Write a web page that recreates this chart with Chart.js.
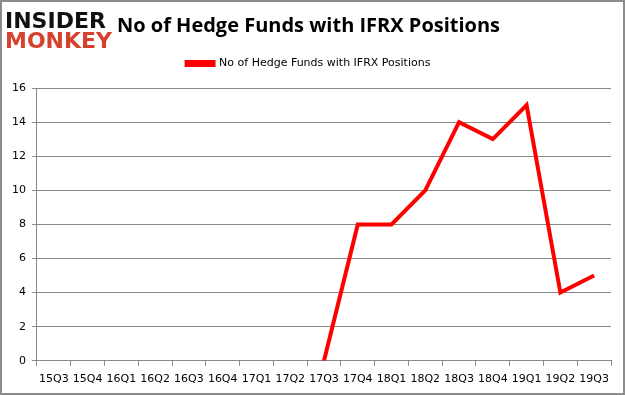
<!DOCTYPE html>
<html>
<head>
<meta charset="utf-8">
<script src="https://cdn.jsdelivr.net/npm/chart.js@4.4.0/dist/chart.umd.min.js"></script>
<style>
  html, body { margin: 0; padding: 0; background: #fff; }
  #wrap { width: 625px; height: 395px; }
</style>
</head>
<body>
<div id="wrap"><canvas id="myChart" width="625" height="395"></canvas></div>
<script>
var quarters = ["15Q3","15Q4","16Q1","16Q2","16Q3","16Q4","17Q1","17Q2","17Q3","17Q4","18Q1","18Q2","18Q3","18Q4","19Q1","19Q2","19Q3"];
var hedgeFunds = [null,null,null,null,null,null,null,null,0,8,8,10,14,13,15,4,5];
var yTicks = [0,2,4,6,8,10,12,14,16];

// frame + logo drawn on top of canvas
var decor = {
    id: "decor",
    afterDraw: function(chart){
        var c = chart.ctx;
        c.save();
        c.strokeStyle = "#8c8c8c";
        c.lineWidth = 2;
        c.strokeRect(1, 1, chart.width - 2, chart.height - 2);
        c.textBaseline = "alphabetic";
        c.font = "900 22px 'DejaVu Sans'";
        c.fillStyle = "#111";
        c.fillText("INSIDER", 5, 28);
        c.fillStyle = "#d5412c";
        c.fillText("MONKEY", 5, 48);
        c.restore();
    }
};

// extra room under the legend
var legendGap = {
    id: "legendGap",
    beforeInit: function(chart){
        var fit = chart.legend.fit;
        chart.legend.fit = function(){
            fit.bind(chart.legend)();
            this.height += 9;
        };
    }
};

var ctx = document.getElementById("myChart").getContext("2d");
var myChart = new Chart(ctx, {
    type: "line",
    data: {
        labels: quarters,
        datasets: [{
            label: "No of Hedge Funds with IFRX Positions",
            data: hedgeFunds,
            borderColor: "#ff0000",
            backgroundColor: "#ff0000",
            borderWidth: 4,
            pointRadius: 0,
            tension: 0,
            spanGaps: false
        }]
    },
    options: {
        responsive: false,
        animation: false,
        layout: { padding: { left: 6, right: 14, top: 4, bottom: 2 } },
        plugins: {
            title: {
                display: true,
                text: "No of Hedge Funds with IFRX Positions",
                color: "#000",
                font: { family: "'Open Sans'", size: 20, weight: "bold" },
                padding: { top: 10, bottom: 12 }
            },
            legend: {
                display: true,
                labels: {
                    boxWidth: 27,
                    boxHeight: 3,
                    color: "#000",
                    font: { family: "'DejaVu Sans'", size: 11 },
                    padding: 8
                }
            },
            tooltip: { enabled: false }
        },
        scales: {
            x: {
                offset: true,
                grid: {
                    display: true,
                    drawOnChartArea: false,
                    drawTicks: true,
                    tickLength: 5,
                    color: "#888",
                    offset: true
                },
                border: { display: true, color: "#888" },
                ticks: {
                    color: "#000",
                    font: { family: "'DejaVu Sans'", size: 11 },
                    maxRotation: 0,
                    autoSkip: false,
                    padding: 7
                }
            },
            y: {
                min: 0,
                max: 16,
                afterBuildTicks: function(axis){
                    axis.ticks = yTicks.map(function(v){ return { value: v }; });
                },
                grid: {
                    color: "#888",
                    drawTicks: true,
                    tickLength: 5
                },
                border: { display: true, color: "#888" },
                ticks: {
                    color: "#000",
                    font: { family: "'DejaVu Sans'", size: 11 },
                    padding: 6
                }
            }
        }
    },
    plugins: [decor, legendGap]
});
</script>
</body>
</html>
